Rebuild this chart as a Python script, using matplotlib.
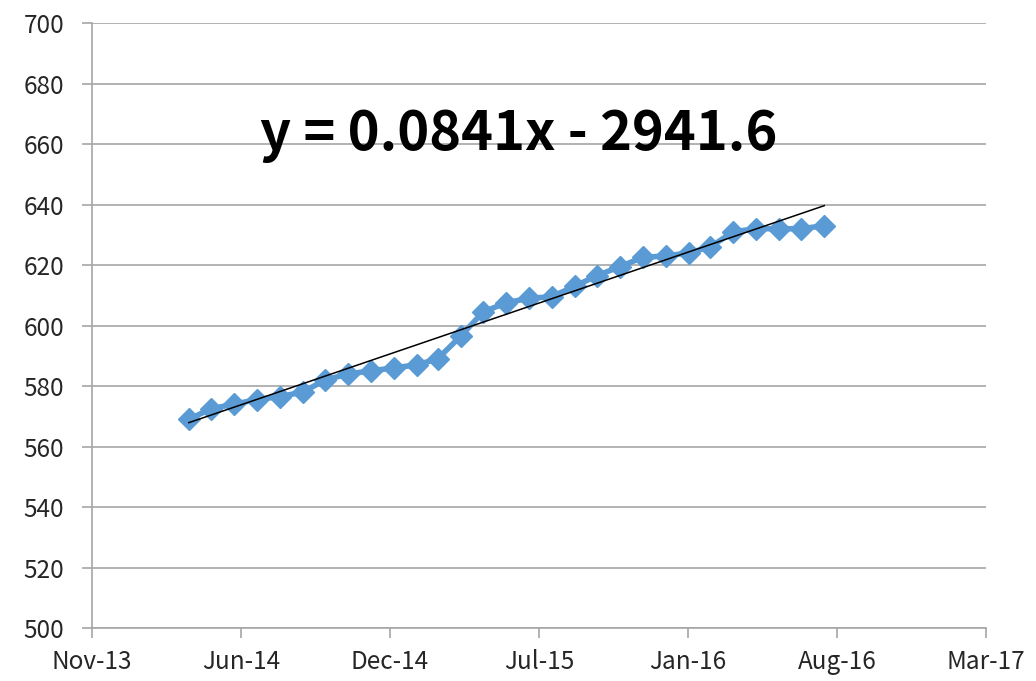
import numpy as np
import pandas as pd
import matplotlib
matplotlib.use("Agg")
import matplotlib.pyplot as plt

# monthly readings, Apr 2014 .. Aug 2016
months = pd.date_range("2014-04-01", periods=29, freq="MS")
values = [569, 572.5, 574, 575.5, 576.5, 578, 582, 584, 585, 586, 587, 589,
          596.5, 604.5, 607.5, 609, 609.5, 613, 616.5, 619.5, 622.5, 623, 624,
          626, 631, 632, 632, 632, 633]

# trendline as Excel reported it (x = Excel date serial)
slope = 0.0841
intercept = -2941.6

x_ticks = [41600, 41800, 42000, 42200, 42400, 42600, 42800]
x_labels = ["Nov-13", "Jun-14", "Dec-14", "Jul-15", "Jan-16", "Aug-16", "Mar-17"]
y_ticks = [500, 520, 540, 560, 580, 600, 620, 640, 660, 680, 700]

plt.rcParams['font.family'] = ['Noto Sans CJK JP', 'DejaVu Sans']

serial = np.array([(d - pd.Timestamp("1899-12-30")).days for d in months])

fig = plt.figure(figsize=(10.36, 6.81), dpi=100)
ax = fig.add_axes([0.0888, 0.0778, 0.8629, 0.8884])

ax.plot(serial, values, color="#5B9BD5", lw=4, marker="D", markersize=11,
        markeredgecolor="#5B9BD5", zorder=3)

trend_x = np.array([serial[0], serial[-1]])
ax.plot(trend_x, slope * trend_x + intercept, color="black", lw=1.1, zorder=4)

ax.set_xlim(41600, 42800)
ax.set_ylim(500, 700)
ax.set_xticks(x_ticks)
ax.set_xticklabels(x_labels)
ax.set_yticks(y_ticks)
ax.grid(axis="y", color="#a6a6a6", lw=1.2)
ax.set_axisbelow(True)

for s in ["top", "right"]:
    ax.spines[s].set_visible(False)
for s in ["left", "bottom"]:
    ax.spines[s].set_color("#a6a6a6")
    ax.spines[s].set_linewidth(1.2)

ax.tick_params(axis="both", colors="#a6a6a6", length=7, width=1.2,
               labelsize=17.5, labelcolor="#262626")
ax.tick_params(axis="x", pad=8)
ax.tick_params(axis="y", pad=13)

ax.text(0.477, 0.790, "y = 0.0841x - 2941.6", transform=ax.transAxes,
        fontsize=39, fontweight="bold",
        ha="center", va="baseline", color="black")

fig.savefig("out.png", dpi=100)
